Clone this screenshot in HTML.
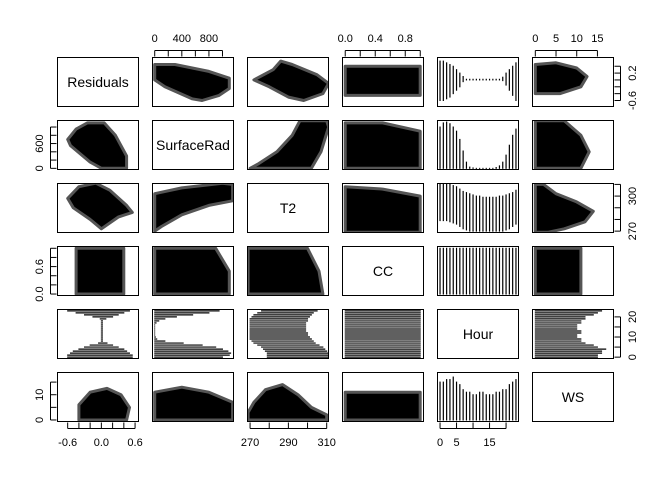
<!DOCTYPE html>
<html><head><meta charset="utf-8"><style>
html,body{margin:0;padding:0;background:#fff;}
svg{display:block;font-family:"Liberation Sans",Arial,sans-serif;}
</style></head><body>
<svg id="chart" width="672" height="480" viewBox="0 0 672 480" xmlns="http://www.w3.org/2000/svg">
<rect width="672" height="480" fill="#fff"/>
</svg>
<script>
// ---- data ----
const varNames = ["Residuals","SurfaceRad","T2","CC","Hour","WS"];
const domMin = [-0.79, -40, 268.4, -0.043, -0.92, -0.8];
const domMax = [0.67, 1170, 311.2, 1.05, 23.92, 19.0];
const hours = [0,1,2,3,4,5,6,7,8,9,10,11,12,13,14,15,16,17,18,19,20,21,22,23];
const resMin = [-0.6,-0.6,-0.55,-0.5,-0.4,-0.3,-0.2,-0.05,0,0,0,0,0,0,0,0,0,0,0,-0.02,-0.15,-0.3,-0.45,-0.6];
const resMax = [0.55,0.55,0.5,0.45,0.4,0.3,0.2,0.1,0.02,0.02,0.02,0.02,0.02,0.02,0.02,0.02,0.02,0.02,0.02,0.08,0.2,0.3,0.4,0.5];
const srMin = [0,0,0,0,0,0,0,0,0,0,0,0,0,0,0,0,0,0,0,0,0,0,0,0];
const srMax = [1000,1100,1120,1080,1000,900,700,420,150,30,10,0,0,0,0,0,0,20,60,150,320,560,800,950];
const t2Min = [279,279,279,278,277,276,274,272,271,270,270,270,270,270,270,270,270,270,270,270,271,272,274,276];
const t2Max = [311,311,311,310,309,308,306,304,303,302,301,300,300,299,299,299,299,299,300,300,301,302,303,305];
const ccMin = [0,0,0,0,0,0,0,0,0,0,0,0,0,0,0,0,0,0,0,0,0,0,0,0];
const ccMax = [1,1,1,1,1,1,1,1,1,1,1,1,1,1,1,1,1,1,1,1,1,1,1,1];
const wsMin = [0,0,0,0,0,0,0,0,0,0,0,0,0,0,0,0,0,0,0,0,0,0,0,0];
const wsMax = [15,15,16,16,17,15,14,12,11,11,10,10,11,11,10,10,10,11,11,12,12,14,15,16];
// cloud hulls: [varA, varB, [[a,b],...]]
const hullResSR = [[-0.6,700],[-0.45,950],[-0.25,1100],[0.05,1100],[0.25,800],[0.45,300],[0.45,0],[0.0,0],[-0.2,150],[-0.55,550]];
const hullResT2 = [[-0.6,298],[-0.4,308],[-0.1,311],[0.15,305],[0.45,292],[0.55,286],[0.3,282],[0.0,272],[-0.2,280],[-0.5,290]];
const hullResCC = [[-0.45,0],[0.4,0],[0.4,1],[-0.45,1]];
const hullResWS = [[-0.4,0],[0.45,0],[0.5,5],[0.35,10],[0.1,12.5],[-0.2,11],[-0.4,6]];
const hullSRT2 = [[0,270],[0,302],[400,307],[1000,311],[1150,310],[1150,296],[800,292],[400,284],[100,274]];
const hullSRCC = [[0,0],[1100,0],[1100,0.5],[900,1],[0,1]];
const hullSRWS = [[0,0],[1150,0],[1150,7],[800,11],[400,13],[0,11]];
const hullT2CC = [[269,0],[308,0],[306,0.5],[300,1],[269,1]];
const hullT2WS = [[269,0],[310,0],[310,2],[302,5],[295,10],[287,14],[278,12],[272,7],[269,3]];
const hullCCWS = [[0,0],[1,0],[1,11],[0,11]];
const hullPairs = [[0,1,hullResSR],[0,2,hullResT2],[0,3,hullResCC],[0,5,hullResWS],[1,2,hullSRT2],[1,3,hullSRCC],[1,5,hullSRWS],[2,3,hullT2CC],[2,5,hullT2WS],[3,5,hullCCWS]];
const hourMin = [resMin,srMin,t2Min,ccMin,null,wsMin];
const hourMax = [resMax,srMax,t2Max,ccMax,null,wsMax];
// axes tick values / labels
const topTicks = {1:[0,200,400,600,800,1000],3:[0,0.2,0.4,0.6,0.8,1.0],5:[0,5,10,15]};
const topLabels = {1:["0","400","800"],3:["0.0","0.4","0.8"],5:["0","5","10","15"]};
const topLabelVals = {1:[0,400,800],3:[0,0.4,0.8],5:[0,5,10,15]};
const botTicks = {0:[-0.6,-0.4,-0.2,0,0.2,0.4,0.6],2:[270,280,290,300,310],4:[0,5,10,15,20]};
const botLabels = {0:["-0.6","0.0","0.6"],2:["270","290","310"],4:["0","5","15"]};
const botLabelVals = {0:[-0.6,0,0.6],2:[270,290,310],4:[0,5,15]};
const leftTicks = {1:[0,200,400,600,800,1000],3:[0,0.2,0.4,0.6,0.8,1.0],5:[0,5,10,15]};
const leftLabels = {1:["0","600"],3:["0.0","0.6"],5:["0","10"]};
const leftLabelVals = {1:[0,600],3:[0,0.6],5:[0,10]};
const rightTicks = {0:[-0.6,-0.4,-0.2,0,0.2,0.4],2:[270,280,290,300,310],4:[0,5,10,15,20]};
const rightLabels = {0:["-0.6","0.2"],2:["270","300"],4:["0","10","20"]};
const rightLabelVals = {0:[-0.6,0.2],2:[270,300],4:[0,10,20]};

// ---- layout ----
const colX = [57,152,247,342,437,532], rowY = [57,120,183,246,309,372], PW = 82, PH = 50;
const svg = document.getElementById('chart');
const NS = "http://www.w3.org/2000/svg";
function sx(v,c,val){return colX[c] + (val-domMin[v])/(domMax[v]-domMin[v])*PW;}
function sy(v,r,val){return rowY[r] + PH - (val-domMin[v])/(domMax[v]-domMin[v])*PH;}
function mk(tag,attrs,parent){const e=document.createElementNS(NS,tag);for(const k in attrs)e.setAttribute(k,attrs[k]);(parent||svg).appendChild(e);return e;}

const defs = mk('defs',{});
for(let r=0;r<6;r++)for(let c=0;c<6;c++){
  const cp=mk('clipPath',{id:'cp'+r+'_'+c},defs);
  mk('rect',{x:colX[c],y:rowY[r],width:PW,height:PH},cp);
}

function panelGroup(r,c){
  const g=mk('g',{'clip-path':'url(#cp'+r+'_'+c+')'});
  
  
  return g;
}

// hull clouds
hullPairs.forEach(([a,b,pts])=>{
  let g=panelGroup(b,a);
  let p=mk('polygon',{points:pts.map(q=>sx(a,a,q[0]).toFixed(1)+','+sy(b,b,q[1]).toFixed(1)).join(' '),fill:'#000',stroke:'#555','stroke-width':3,'stroke-linejoin':'round'},g);
  
  
  g=panelGroup(a,b);
  p=mk('polygon',{points:pts.map(q=>sx(b,b,q[1]).toFixed(1)+','+sy(a,a,q[0]).toFixed(1)).join(' '),fill:'#000',stroke:'#555','stroke-width':3,'stroke-linejoin':'round'},g);
  
  
});

// hour panels
for(let v=0;v<6;v++){
  if(v===4)continue;
  const mn=hourMin[v], mx=hourMax[v];
  let g=panelGroup(v,4);
  hours.forEach((h,i)=>{
    const x=sx(4,4,h);
    const l=mk('line',{x1:x,x2:x,y1:sy(v,v,mn[i])+0.5,y2:sy(v,v,mx[i])-0.5,stroke:'#000','stroke-width':1.2},g);
    
    
  });
  g=panelGroup(4,v);
  hours.forEach((h,i)=>{
    const y=sy(4,4,h);
    const l=mk('line',{y1:y,y2:y,x1:sx(v,v,mn[i])-0.5,x2:sx(v,v,mx[i])+0.5,stroke:'#000','stroke-width':1.2},g);
    
    
  });
}

// panel frames + diagonal labels
for(let r=0;r<6;r++)for(let c=0;c<6;c++){
  const f=mk('rect',{x:colX[c]+0.5,y:rowY[r]+0.5,width:PW-1,height:PH-1,fill:'none',stroke:'#000','stroke-width':1});
  
  
  if(r===c){
    const t=mk('text',{x:colX[c]+PW/2,y:rowY[r]+PH/2+5,'text-anchor':'middle','font-size':14,fill:'#000'});
    t.textContent=varNames[r];
    
    
  }
}

// axes
function axisLine(x1,y1,x2,y2){const l=mk('line',{x1,y1,x2,y2,stroke:'#000','stroke-width':1});}
function label(x,y,txt,rot,name){
  const t=mk('text',{x,y,'text-anchor':'middle','font-size':11,fill:'#000'});
  if(rot)t.setAttribute('transform','rotate(-90 '+x+' '+y+')');
  t.textContent=txt;
  
  
}
for(const c in topTicks){
  const v=+c, t=topTicks[c], y=rowY[0];
  axisLine(sx(v,v,t[0]),y-6.5,sx(v,v,t[t.length-1]),y-6.5);
  t.forEach(val=>{const x=sx(v,v,val);axisLine(x,y-6.5,x,y-0.5);});
  topLabels[c].forEach((s,i)=>label(sx(v,v,topLabelVals[c][i]),y-15,s,false,'top-tick-label'));
}
for(const c in botTicks){
  const v=+c, t=botTicks[c], y=rowY[5]+PH;
  axisLine(sx(v,v,t[0]),y+6.5,sx(v,v,t[t.length-1]),y+6.5);
  t.forEach(val=>{const x=sx(v,v,val);axisLine(x,y+0.5,x,y+6.5);});
  botLabels[c].forEach((s,i)=>label(sx(v,v,botLabelVals[c][i]),y+24,s,false,'bottom-tick-label'));
}
for(const r in leftTicks){
  const v=+r, t=leftTicks[r], x=colX[0];
  axisLine(x-6.5,sy(v,v,t[0]),x-6.5,sy(v,v,t[t.length-1]));
  t.forEach(val=>{const y=sy(v,v,val);axisLine(x-6.5,y,x-0.5,y);});
  leftLabels[r].forEach((s,i)=>label(x-14,sy(v,v,leftLabelVals[r][i]),s,true,'left-tick-label'));
}
for(const r in rightTicks){
  const v=+r, t=rightTicks[r], x=colX[5]+PW;
  axisLine(x+6.5,sy(v,v,t[0]),x+6.5,sy(v,v,t[t.length-1]));
  t.forEach(val=>{const y=sy(v,v,val);axisLine(x+0.5,y,x+6.5,y);});
  rightLabels[r].forEach((s,i)=>label(x+22,sy(v,v,rightLabelVals[r][i]),s,true,'right-tick-label'));
}
</script>
</body></html>
